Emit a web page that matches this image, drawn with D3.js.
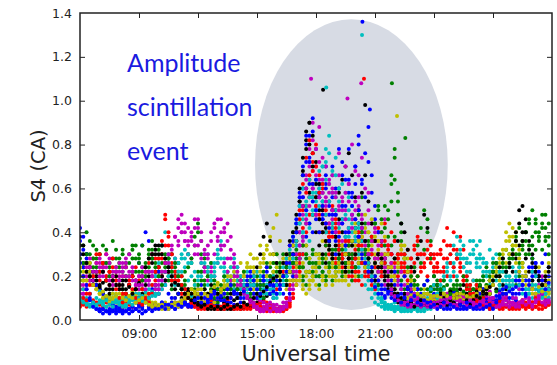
<!DOCTYPE html>
<html>
<head>
<meta charset="utf-8">
<script src="https://cdn.jsdelivr.net/npm/d3@7"></script>
<style>
  html, body { margin: 0; padding: 0; background: #fff; }
  svg { display: block; }
  .tick text { font-family: "DejaVu Sans", sans-serif; font-size: 12.5px; fill: #222; }
</style>
</head>
<body>
<svg id="chart" width="557" height="365"></svg>
<script>
// Universal time in hours, 06:00 through 06:00 the following day
const timeDomain = [6, 30];
const stepHours = 1 / 6; // one S4 sample every 10 minutes
const eventStartHour = 16.5; // first sample of the event-only tracks
const xTickHours = [9, 12, 15, 18, 21, 24, 27];
const xTickLabels = ["09:00", "12:00", "15:00", "18:00", "21:00", "00:00", "03:00"];
const yTicks = [0.0, 0.2, 0.4, 0.6, 0.8, 1.0, 1.2, 1.4];
const yTickLabels = ["0.0", "0.2", "0.4", "0.6", "0.8", "1.0", "1.2", "1.4"];

// S4 per satellite track, 10-minute samples starting 06:00 (one row = 2 hours)
const blueA = [
  .36,.32,.28,.12,.08,.06,.05,.05,.04,.05,.04,.05,
  .04,.05,.04,.05,.06,.08,.26,.34,.40,.36,.30,.22,
  .12,.08,.06,.05,.06,.05,.06,.07,.08,.10,.09,.12,
  .14,.16,.12,.10,.08,.07,.09,.12,.14,.10,.08,.07,
  .06,.08,.10,.12,.16,.14,.18,.20,.16,.14,.12,.10,
  .12,.18,.22,.16,.28,.36,.44,.52,.60,.72,.84,.92,
  .78,.62,.54,.70,.48,.56,.40,.34,.46,.38,.42,.30,
  .36,.44,.28,.32,.20,.18,.14,.16,.12,.10,.14,.12,
  .10,.12,.09,.11,.08,.10,.12,.14,.10,.08,.09,.10,
  .08,.06,.07,.05,.06,.05,.06,.07,.05,.06,.05,.06,
  .07,.05,.06,.08,.06,.05,.07,.06,.08,.10,.09,.08,
  .10,.12,.16,.20,.18,.14,.22,.26,.20,.16,.18,.14
];
const greenA = [
  .28,.34,.40,.30,.24,.32,.20,.26,.18,.22,.36,.28,
  .24,.30,.20,.26,.32,.22,.28,.34,.24,.30,.36,.26,
  .32,.22,.28,.20,.14,.18,.12,.16,.22,.30,.26,.34,
  .44,.36,.28,.22,.18,.14,.12,.10,.14,.12,.16,.12,
  .10,.12,.14,.10,.12,.16,.14,.18,.20,.24,.18,.22,
  .26,.22,.30,.28,.34,.40,.36,.30,.38,.34,.28,.32,
  .26,.30,.22,.28,.34,.26,.20,.24,.30,.22,.28,.36,
  .40,.48,.56,.44,.36,.30,.24,.28,.36,.42,.50,.62,
  .78,.54,.40,.30,.22,.18,.24,.34,.42,.50,.46,.36,
  .24,.18,.14,.12,.10,.13,.11,.14,.12,.10,.12,.14,
  .12,.14,.16,.18,.20,.22,.26,.24,.22,.28,.32,.30,
  .34,.38,.42,.36,.40,.44,.38,.46,.40,.48,.42,.38
];
const redA = [
  .07,.08,.06,.07,.09,.08,.07,.06,.08,.07,.09,.08,
  .07,.06,.08,.07,.06,.08,.07,.09,.10,.08,.12,.16,
  .22,.30,.46,.38,.26,.20,.16,.12,.08,.06,.07,.06,
  .05,.06,.07,.05,.06,.08,.06,.05,.07,.06,.05,.06,
  .07,.06,.05,.06,.08,.07,.10,.12,.09,.08,.07,.06,
  .05,.06,.04,.05,.06,.10,.18,.26,.34,.52,.64,.72,
  .80,.66,.58,.48,.40,.52,.44,.36,.30,.26,.34,.28,
  .24,.30,.38,.26,.22,.18,.24,.30,.36,.44,.32,.26,
  .22,.28,.34,.20,.16,.24,.18,.30,.22,.26,.32,.28,
  .24,.30,.22,.28,.34,.26,.20,.30,.38,.32,.26,.22,
  .18,.14,.10,.08,.07,.06,.08,.07,.06,.05,.07,.06,
  .05,.06,.07,.08,.06,.07,.05,.06,.08,.07,.06,.07
];
const cyanA = [
  .12,.10,.08,.07,.06,.07,.08,.07,.06,.08,.07,.09,
  .10,.08,.09,.11,.10,.12,.09,.11,.13,.10,.12,.14,
  .12,.16,.22,.28,.24,.20,.26,.30,.24,.18,.14,.12,
  .16,.22,.26,.30,.26,.22,.28,.34,.24,.20,.18,.22,
  .20,.16,.18,.22,.14,.12,.16,.20,.18,.14,.12,.10,
  .12,.14,.18,.22,.26,.30,.34,.40,.46,.52,.44,.56,
  .62,.68,.58,.72,.84,.66,.74,.60,.52,.48,.56,.44,
  .38,.42,.30,.26,.34,.22,.18,.14,.10,.08,.07,.06,
  .05,.06,.05,.04,.05,.06,.05,.04,.06,.05,.06,.08,
  .10,.14,.18,.22,.26,.30,.24,.20,.28,.34,.26,.22,
  .18,.24,.30,.26,.20,.16,.22,.18,.14,.12,.16,.20,
  .24,.18,.14,.16,.20,.12,.10,.14,.18,.12,.10,.12
];
const magentaA = [
  .14,.12,.16,.18,.20,.22,.26,.24,.20,.28,.22,.18,
  .20,.24,.28,.22,.18,.16,.14,.18,.20,.16,.14,.12,
  .16,.20,.18,.24,.30,.28,.36,.44,.40,.34,.38,.42,
  .46,.40,.32,.28,.22,.20,.26,.34,.40,.44,.38,.30,
  .24,.20,.16,.14,.12,.10,.08,.07,.06,.05,.06,.07,
  .05,.04,.06,.08,.12,.20,.28,.40,.56,.66,.72,.60,
  .52,.64,.50,.44,.58,.46,.38,.52,.44,.36,.42,.30,
  .34,.40,.32,.26,.22,.30,.36,.28,.20,.16,.18,.14,
  .12,.10,.08,.07,.06,.08,.10,.09,.08,.07,.06,.08,
  .07,.06,.08,.10,.12,.10,.08,.07,.09,.11,.08,.07,
  .06,.08,.10,.07,.09,.12,.10,.08,.07,.09,.06,.08,
  .10,.08,.07,.09,.12,.10,.08,.11,.09,.07,.08,.10
];
const yellowA = [
  .20,.24,.22,.18,.16,.20,.14,.12,.10,.11,.09,.12,
  .10,.11,.09,.10,.12,.11,.09,.08,.10,.09,.07,.08,
  .07,.06,.08,.07,.06,.07,.06,.08,.09,.10,.11,.12,
  .10,.12,.14,.12,.10,.09,.11,.13,.15,.18,.14,.12,
  .16,.20,.22,.18,.24,.28,.22,.26,.30,.34,.26,.22,
  .18,.20,.16,.14,.18,.22,.26,.30,.24,.34,.28,.22,
  .26,.30,.36,.28,.24,.20,.26,.18,.22,.30,.34,.40,
  .44,.50,.38,.32,.28,.36,.30,.24,.30,.22,.20,.18,
  .16,.22,.30,.34,.28,.20,.16,.12,.10,.14,.12,.11,
  .10,.12,.11,.09,.10,.12,.14,.11,.09,.12,.10,.11,
  .09,.10,.12,.14,.16,.18,.22,.20,.26,.30,.36,.44,
  .38,.30,.24,.20,.16,.14,.12,.10,.12,.14,.11,.13
];
const blackA = [
  .38,.34,.30,.22,.18,.16,.14,.12,.10,.12,.14,.16,
  .18,.16,.14,.16,.20,.18,.16,.14,.18,.22,.28,.32,
  .34,.30,.26,.28,.24,.20,.16,.15,.14,.13,.11,.09,
  .08,.07,.06,.06,.05,.06,.05,.06,.05,.05,.06,.05,
  .06,.05,.06,.07,.06,.07,.08,.09,.10,.11,.12,.14,
  .16,.18,.20,.24,.28,.34,.42,.54,.68,.82,.90,.76,
  .62,.50,.44,.40,.34,.30,.38,.32,.28,.24,.30,.22,
  .28,.34,.40,.30,.24,.20,.16,.22,.26,.20,.14,.12,
  .10,.08,.09,.07,.08,.06,.07,.08,.06,.07,.06,.08,
  .07,.06,.08,.07,.09,.08,.07,.06,.08,.09,.07,.06,
  .08,.07,.09,.10,.08,.12,.16,.14,.10,.12,.14,.18,
  .22,.28,.34,.40,.46,.36,.30,.24,.20,.18,.16,.14
];
const blueB = [
  .42,.38,.30,.22,.18,.16,.14,.12,.10,.08,.07,.06,
  .06,.07,.06,.05,.06,.05,.07,.06,.08,.10,.14,.20,
  .22,.18,.16,.12,.10,.08,.07,.06,.08,.07,.06,.08,
  .07,.06,.08,.10,.12,.09,.07,.06,.08,.10,.14,.12,
  .10,.12,.14,.18,.22,.16,.12,.14,.20,.24,.18,.15,
  .16,.14,.12,.10,.12,.20,.26,.34,.30,.38,.44,.40,
  .50,.58,.46,.62,.54,.70,.60,.78,.66,.52,.64,.56,
  .70,.80,.64,.56,.72,.58,.46,.40,.34,.28,.22,.18,
  .16,.18,.14,.12,.15,.13,.11,.14,.12,.16,.18,.14,
  .12,.14,.10,.12,.09,.11,.13,.10,.08,.09,.07,.08,
  .09,.10,.12,.14,.10,.08,.09,.11,.13,.12,.10,.08,
  .07,.09,.12,.16,.20,.24,.28,.22,.18,.26,.30,.24
];
const greenB = [
  .22,.18,.26,.20,.16,.24,.30,.22,.18,.26,.20,.24,
  .18,.14,.20,.16,.22,.18,.26,.22,.18,.24,.20,.16,
  .20,.26,.22,.18,.30,.24,.20,.16,.12,.10,.14,.18,
  .22,.18,.16,.20,.14,.10,.08,.12,.10,.14,.16,.20,
  .18,.14,.12,.16,.10,.08,.12,.14,.10,.16,.20,.26,
  .30,.24,.20,.26,.22,.18,.24,.28,.20,.16,.22,.26,
  .20,.16,.22,.18,.24,.28,.32,.26,.22,.30,.34,.28,
  .24,.20,.26,.22,.28,.24,.20,.16,.22,.26,.30,.34,
  .28,.22,.18,.14,.12,.16,.14,.12,.10,.12,.14,.13,
  .16,.14,.12,.14,.10,.12,.14,.16,.12,.10,.11,.13,
  .10,.12,.09,.11,.14,.12,.10,.13,.16,.14,.12,.15,
  .18,.16,.20,.26,.30,.34,.28,.32,.38,.44,.36,.30
];
const redB = [
  .10,.14,.18,.24,.28,.30,.22,.26,.20,.16,.24,.18,
  .14,.12,.10,.16,.20,.14,.12,.18,.22,.26,.30,.28,
  .24,.20,.26,.22,.18,.20,.16,.12,.10,.14,.12,.10,
  .12,.10,.08,.11,.09,.12,.10,.14,.12,.09,.10,.12,
  .14,.12,.16,.14,.18,.12,.10,.08,.12,.14,.16,.18,
  .14,.16,.22,.26,.34,.30,.40,.46,.50,.44,.56,.62,
  .48,.40,.52,.36,.30,.42,.28,.34,.24,.30,.20,.26,
  .22,.18,.26,.30,.20,.16,.14,.18,.22,.30,.34,.40,
  .36,.30,.26,.22,.18,.28,.32,.36,.30,.24,.20,.26,
  .30,.24,.18,.22,.28,.34,.40,.32,.26,.20,.16,.14,
  .12,.16,.14,.10,.12,.08,.06,.07,.09,.12,.10,.08,
  .07,.06,.08,.09,.07,.06,.08,.10,.08,.07,.09,.08
];
const cyanB = [
  .16,.14,.10,.12,.08,.10,.13,.09,.11,.10,.12,.11,
  .09,.07,.06,.08,.07,.09,.10,.08,.12,.14,.16,.20,
  .26,.34,.40,.30,.22,.18,.16,.14,.12,.10,.11,.09,
  .10,.12,.14,.16,.20,.24,.30,.36,.28,.22,.16,.14,
  .12,.10,.14,.16,.12,.18,.22,.16,.14,.12,.16,.20,
  .24,.20,.16,.22,.28,.26,.34,.30,.38,.44,.36,.50,
  .58,.46,.54,.40,.36,.42,.48,.34,.40,.32,.38,.26,
  .30,.24,.20,.16,.14,.10,.08,.07,.06,.05,.06,.07,
  .08,.06,.07,.09,.06,.08,.10,.07,.09,.12,.10,.14,
  .16,.12,.10,.14,.20,.26,.34,.38,.30,.24,.28,.36,
  .32,.26,.36,.28,.22,.18,.24,.30,.22,.18,.20,.16,
  .14,.18,.22,.16,.12,.14,.18,.22,.16,.14,.12,.10
];
const magentaB = [
  .10,.12,.14,.18,.16,.20,.24,.22,.26,.20,.18,.24,
  .22,.26,.20,.18,.22,.16,.20,.24,.18,.22,.20,.16,
  .12,.14,.18,.22,.20,.26,.34,.40,.36,.30,.28,.34,
  .30,.26,.22,.18,.24,.30,.36,.32,.26,.22,.18,.20,
  .16,.14,.12,.10,.09,.08,.10,.09,.08,.07,.08,.06,
  .07,.06,.08,.10,.14,.18,.24,.30,.38,.46,.56,.68,
  .78,.88,.62,.70,.54,.60,.48,.66,.56,.50,.62,.46,
  .54,.66,.48,.40,.58,.44,.36,.30,.40,.46,.34,.26,
  .20,.16,.14,.12,.10,.14,.12,.10,.08,.10,.12,.09,
  .10,.08,.11,.09,.12,.10,.08,.09,.11,.10,.08,.09,
  .10,.12,.09,.08,.11,.13,.10,.09,.12,.10,.11,.14,
  .12,.10,.14,.16,.12,.18,.14,.12,.16,.20,.18,.14
];
const yellowB = [
  .16,.18,.22,.26,.20,.14,.12,.10,.09,.08,.10,.09,
  .08,.10,.12,.11,.13,.10,.12,.14,.11,.09,.08,.07,
  .06,.05,.07,.06,.08,.10,.12,.14,.12,.10,.14,.16,
  .14,.10,.08,.07,.06,.08,.10,.12,.16,.20,.24,.22,
  .18,.14,.20,.24,.16,.14,.18,.22,.26,.20,.30,.42,
  .48,.36,.28,.22,.26,.30,.24,.18,.14,.12,.16,.20,
  .22,.26,.18,.16,.20,.24,.18,.22,.28,.20,.16,.24,
  .20,.26,.30,.24,.32,.38,.42,.36,.28,.22,.18,.14,
  .12,.10,.09,.08,.10,.11,.09,.08,.10,.12,.09,.10,
  .11,.09,.10,.12,.08,.09,.11,.10,.12,.09,.08,.10,
  .09,.11,.10,.12,.14,.12,.16,.20,.18,.22,.26,.30,
  .34,.40,.32,.26,.22,.18,.16,.20,.24,.18,.22,.26
];
const blackB = [
  .30,.26,.22,.24,.18,.20,.16,.22,.18,.14,.20,.16,
  .14,.18,.12,.16,.20,.14,.10,.12,.16,.20,.26,.30,
  .24,.20,.18,.22,.16,.14,.12,.10,.12,.14,.12,.10,
  .12,.10,.14,.12,.16,.14,.12,.10,.08,.10,.12,.09,
  .10,.12,.14,.16,.18,.20,.24,.30,.38,.44,.36,.30,
  .26,.22,.20,.24,.30,.26,.36,.44,.52,.60,.58,.48,
  .40,.34,.30,.26,.36,.44,.50,.58,.64,.70,.76,.66,
  .56,.44,.36,.30,.26,.22,.26,.30,.24,.18,.20,.16,
  .14,.12,.10,.12,.14,.18,.22,.28,.36,.48,.42,.30,
  .20,.16,.12,.10,.11,.13,.10,.12,.14,.16,.12,.10,
  .11,.13,.15,.12,.14,.18,.22,.26,.20,.16,.22,.24,
  .30,.40,.50,.36,.28,.22,.18,.24,.20,.16,.18,.22
];
const blueC = [
  .30,.24,.16,.10,.07,.05,.04,.05,.04,.04,.05,.04,
  .05,.04,.04,.05,.04,.05,.06,.05,.04,.06,.05,.07,
  .06,.08,.07,.06,.08,.10,.12,.09,.07,.06,.08,.07,
  .06,.08,.07,.09,.10,.12,.14,.11,.09,.08,.10,.12,
  .14,.18,.16,.20,.14,.12,.10,.16,.18,.14,.12,.16,
  .18,.14,.16,.22,.30,.38,.46,.58,.66,.80,.72,.86,
  .64,.56,.48,.60,.42,.50,.36,.44,.52,.40,.58,.48,
  .62,.50,.42,.36,.30,.24,.20,.18,.16,.14,.12,.13,
  .11,.09,.12,.10,.08,.09,.07,.08,.10,.09,.07,.08,
  .06,.08,.07,.09,.06,.07,.08,.06,.07,.05,.06,.07,
  .06,.07,.05,.06,.08,.07,.06,.09,.11,.14,.12,.10,
  .14,.18,.22,.16,.12,.18,.24,.20,.14,.12,.16,.20
];
const greenC = [
  .34,.26,.30,.36,.28,.22,.30,.34,.26,.20,.28,.32,
  .28,.22,.26,.30,.34,.28,.22,.18,.26,.32,.28,.24,
  .20,.16,.24,.28,.22,.26,.20,.14,.18,.24,.28,.38,
  .40,.30,.24,.20,.26,.18,.14,.16,.20,.18,.14,.16,
  .14,.18,.22,.16,.12,.18,.20,.16,.22,.26,.20,.18,
  .22,.26,.20,.24,.30,.26,.32,.28,.24,.30,.26,.22,
  .30,.24,.28,.20,.26,.32,.24,.28,.34,.26,.30,.24,
  .28,.32,.26,.30,.34,.38,.44,.50,.40,.34,.46,.54,
  .64,.48,.36,.28,.24,.20,.16,.20,.26,.32,.40,.28,
  .20,.16,.14,.18,.16,.12,.14,.18,.16,.20,.18,.16,
  .14,.18,.16,.20,.24,.18,.22,.26,.30,.26,.24,.28,
  .32,.36,.30,.34,.40,.46,.50,.44,.38,.42,.48,.44
];
const redC = [
  .08,.10,.12,.16,.20,.26,.30,.24,.18,.22,.28,.20,
  .16,.20,.24,.18,.14,.10,.08,.07,.09,.12,.16,.22,
  .28,.36,.48,.34,.24,.18,.22,.16,.12,.10,.08,.07,
  .06,.05,.06,.07,.06,.05,.06,.05,.07,.06,.05,.06,
  .06,.05,.06,.05,.07,.06,.05,.04,.05,.06,.05,.04,
  .05,.04,.05,.06,.08,.12,.20,.30,.42,.58,.66,.76,
  .70,.58,.62,.50,.44,.38,.46,.40,.34,.30,.36,.24,
  .28,.34,.26,.22,.30,.38,.28,.24,.20,.26,.34,.30,
  .26,.20,.24,.30,.22,.28,.34,.38,.30,.24,.28,.34,
  .28,.22,.32,.36,.42,.30,.24,.28,.22,.18,.20,.16,
  .12,.09,.08,.07,.06,.08,.07,.06,.08,.07,.06,.05,
  .06,.07,.05,.06,.08,.06,.07,.06,.05,.07,.06,.08
];
const cyanC = [
  .09,.08,.07,.06,.07,.06,.08,.07,.06,.07,.06,.08,
  .07,.06,.07,.08,.09,.08,.10,.09,.08,.10,.11,.12,
  .14,.18,.22,.26,.20,.16,.22,.28,.32,.26,.20,.16,
  .20,.26,.30,.24,.20,.26,.32,.28,.22,.18,.24,.28,
  .24,.20,.16,.12,.16,.20,.14,.10,.12,.16,.14,.12,
  .10,.12,.16,.20,.24,.28,.36,.44,.40,.50,.56,.48,
  .54,.60,.70,.64,.76,.58,.66,.54,.62,.46,.50,.40,
  .42,.36,.32,.28,.24,.20,.16,.12,.09,.07,.06,.05,
  .06,.05,.04,.05,.06,.04,.05,.06,.05,.04,.05,.06,
  .08,.12,.16,.20,.24,.20,.26,.30,.36,.28,.22,.26,
  .30,.34,.28,.22,.26,.32,.28,.20,.16,.18,.22,.18,
  .16,.20,.24,.18,.14,.12,.16,.20,.14,.10,.12,.14
];
const magentaC = [
  .12,.16,.20,.24,.18,.22,.28,.20,.24,.18,.16,.22,
  .26,.20,.24,.30,.22,.18,.20,.16,.14,.18,.22,.16,
  .18,.22,.26,.30,.34,.38,.42,.48,.44,.36,.40,.46,
  .42,.36,.30,.34,.40,.44,.38,.46,.42,.36,.28,.24,
  .20,.16,.12,.10,.08,.06,.05,.04,.05,.06,.04,.05,
  .04,.05,.06,.07,.10,.16,.22,.34,.48,.60,.70,.82,
  .66,.72,.58,.54,.62,.50,.56,.44,.50,.58,.40,.48,
  .46,.52,.42,.36,.44,.32,.40,.34,.26,.22,.16,.12,
  .10,.09,.08,.07,.08,.06,.07,.08,.09,.07,.06,.07,
  .06,.08,.07,.09,.10,.08,.06,.07,.08,.10,.09,.06,
  .07,.06,.08,.09,.07,.10,.08,.06,.07,.08,.07,.06,
  .08,.07,.06,.08,.10,.09,.07,.08,.10,.12,.09,.08
];
const yellowC = [
  .24,.20,.18,.22,.16,.14,.12,.13,.11,.10,.12,.11,
  .12,.10,.09,.11,.10,.08,.09,.10,.08,.07,.06,.07,
  .06,.07,.05,.06,.07,.08,.07,.09,.10,.12,.14,.13,
  .12,.14,.12,.11,.13,.15,.17,.14,.12,.16,.20,.18,
  .22,.26,.20,.24,.30,.22,.18,.24,.28,.32,.38,.30,
  .24,.20,.26,.30,.22,.18,.16,.20,.26,.22,.18,.24,
  .30,.26,.20,.24,.32,.28,.22,.26,.34,.30,.26,.36,
  .40,.36,.30,.34,.40,.46,.38,.32,.26,.30,.24,.20,
  .18,.24,.32,.28,.22,.18,.14,.12,.11,.10,.12,.10,
  .09,.11,.10,.12,.11,.09,.10,.12,.10,.09,.11,.10,
  .11,.12,.14,.13,.15,.18,.20,.24,.28,.32,.40,.36,
  .30,.26,.22,.18,.20,.16,.14,.12,.15,.13,.16,.18
];
const blackC = [
  .34,.30,.26,.20,.22,.18,.15,.17,.14,.16,.18,.20,
  .16,.14,.18,.15,.12,.14,.17,.20,.24,.28,.30,.34,
  .30,.34,.28,.24,.20,.17,.16,.14,.12,.10,.09,.08,
  .07,.06,.07,.05,.06,.05,.06,.05,.06,.07,.05,.06,
  .07,.06,.08,.07,.09,.10,.12,.11,.13,.15,.17,.19,
  .20,.22,.26,.30,.36,.40,.48,.60,.74,.86,.80,.70,
  .56,.46,.40,.36,.32,.28,.34,.30,.26,.22,.28,.34,
  .30,.38,.44,.36,.28,.22,.18,.24,.28,.22,.16,.14,
  .12,.10,.08,.09,.07,.08,.06,.07,.09,.08,.07,.06,
  .08,.07,.06,.08,.07,.09,.08,.06,.07,.08,.09,.07,
  .09,.11,.10,.13,.12,.15,.18,.20,.24,.28,.22,.26,
  .30,.36,.44,.52,.40,.32,.26,.22,.18,.16,.20,.24
];
const greenE = [
  .20,.24,.30,.26,.34,.28,.22,.26,.32,.24,.18,.22,
  .26,.32,.24,.20,.28,.34,.30,.24,.20,.28,.32,.22,
  .28,.34,.30,.24,.18,.22,.26,.20,.16,.12,.10,.14,
  .16,.22,.18,.24,.20,.16,.12,.14,.18,.22,.18,.14,
  .12,.16,.20,.14,.18,.22,.16,.12,.16,.20,.24,.20,
  .18,.22,.26,.20,.16,.22,.28,.24,.18,.22,.26,.20,
  .24,.20,.26,.30,.22,.18,.24,.28,.20,.26,.22,.18,
  .22,.26,.20,.24,.28,.22,.26,.30,.36,.28,.24,.30,
  .38,.30,.24,.20,.16,.14,.18,.16,.14,.16,.18,.15,
  .14,.16,.13,.15,.12,.14,.16,.13,.11,.13,.15,.12,
  .14,.16,.18,.14,.16,.20,.18,.22,.20,.24,.22,.26,
  .28,.30,.26,.32,.36,.30,.34,.40,.36,.32,.38,.34
];
const yellowE = [
  .18,.22,.26,.20,.18,.14,.12,.10,.11,.09,.10,.08,
  .09,.08,.10,.09,.07,.08,.06,.07,.08,.06,.07,.06,
  .05,.06,.07,.05,.06,.07,.08,.07,.09,.11,.10,.12,
  .11,.09,.10,.12,.14,.12,.16,.14,.18,.16,.14,.12,
  .14,.18,.22,.26,.20,.24,.28,.34,.30,.24,.20,.26,
  .30,.24,.20,.22,.26,.20,.18,.22,.16,.20,.14,.18,
  .16,.14,.20,.18,.22,.16,.20,.26,.22,.18,.24,.30,
  .34,.28,.36,.42,.34,.30,.26,.22,.28,.24,.20,.16,
  .14,.18,.24,.20,.16,.12,.10,.11,.09,.10,.12,.11,
  .10,.09,.11,.10,.08,.10,.12,.11,.09,.10,.08,.09,
  .10,.12,.11,.13,.12,.15,.18,.22,.20,.26,.32,.38,
  .42,.34,.28,.24,.20,.18,.15,.12,.14,.16,.13,.12
];
const cyanE = [
  .10,.09,.08,.09,.08,.07,.09,.08,.09,.10,.08,.09,
  .08,.09,.10,.09,.11,.10,.12,.11,.10,.12,.13,.11,
  .12,.14,.16,.20,.24,.28,.26,.22,.28,.30,.26,.22,
  .18,.20,.24,.22,.18,.20,.26,.24,.20,.16,.20,.24,
  .18,.14,.12,.14,.18,.16,.12,.10,.14,.18,.16,.14,
  .16,.20,.24,.28,.32,.38,.44,.52,.60,.54,.64,.58,
  .50,.56,.62,.48,.54,.44,.50,.42,.46,.38,.42,.34,
  .36,.30,.26,.22,.18,.14,.12,.10,.08,.06,.05,.06,
  .04,.05,.06,.05,.04,.05,.06,.05,.04,.05,.06,.05,
  .07,.10,.14,.18,.22,.18,.22,.28,.32,.24,.20,.30,
  .36,.28,.24,.20,.26,.22,.18,.24,.28,.22,.18,.14,
  .18,.22,.16,.12,.14,.18,.22,.16,.13,.11,.14,.16
];
const redE = [
  .06,.07,.09,.12,.16,.22,.18,.26,.30,.22,.18,.14,
  .10,.08,.12,.16,.20,.24,.18,.14,.10,.08,.12,.18,
  .24,.28,.34,.40,.30,.22,.18,.20,.14,.10,.08,.06,
  .07,.06,.05,.06,.07,.06,.05,.06,.05,.07,.06,.05,
  .05,.06,.07,.06,.05,.06,.07,.06,.05,.04,.05,.06,
  .04,.05,.06,.05,.07,.10,.16,.22,.30,.40,.48,.56,
  .52,.46,.40,.34,.38,.30,.26,.32,.28,.22,.26,.20,
  .18,.22,.16,.20,.26,.22,.18,.24,.28,.36,.30,.24,
  .20,.26,.30,.24,.18,.22,.26,.20,.24,.30,.36,.30,
  .22,.26,.30,.24,.20,.26,.32,.28,.24,.18,.14,.12,
  .10,.08,.07,.06,.07,.05,.06,.07,.05,.06,.07,.06,
  .07,.05,.06,.07,.05,.06,.08,.06,.07,.05,.06,.07
];
const magentaE = [
  .16,.20,.24,.28,.22,.26,.20,.24,.30,.26,.20,.22,
  .18,.22,.26,.20,.24,.18,.16,.20,.22,.18,.20,.14,
  .14,.18,.22,.26,.32,.38,.46,.40,.36,.42,.36,.30,
  .34,.28,.24,.30,.36,.42,.46,.40,.34,.28,.32,.26,
  .22,.18,.14,.11,.09,.07,.06,.05,.04,.05,.04,.06,
  .05,.04,.05,.06,.09,.14,.20,.28,.36,.44,.52,.60,
  .48,.56,.64,.52,.44,.58,.40,.50,.36,.46,.54,.42,
  .50,.38,.46,.34,.30,.36,.28,.22,.30,.24,.18,.14,
  .11,.09,.07,.08,.06,.07,.09,.07,.06,.08,.07,.06,
  .08,.06,.09,.07,.08,.10,.07,.06,.09,.08,.07,.09,
  .08,.07,.06,.08,.07,.09,.10,.08,.06,.07,.09,.08,
  .07,.06,.08,.09,.07,.08,.06,.09,.11,.08,.07,.09
];
const blueE = [
  .26,.20,.14,.09,.06,.05,.04,.03,.04,.03,.04,.03,
  .04,.03,.04,.03,.04,.05,.04,.03,.04,.05,.04,.05,
  .05,.06,.05,.07,.06,.05,.07,.06,.08,.07,.06,.09,
  .10,.12,.10,.08,.11,.13,.10,.09,.12,.14,.16,.13,
  .12,.10,.13,.16,.20,.18,.14,.12,.18,.22,.16,.13,
  .12,.16,.20,.26,.34,.30,.40,.48,.56,.50,.62,.54,
  .46,.40,.52,.44,.36,.48,.30,.38,.44,.34,.40,.52,
  .46,.38,.30,.26,.22,.18,.15,.12,.14,.11,.13,.10,
  .09,.11,.08,.10,.07,.09,.11,.08,.07,.09,.08,.06,
  .07,.05,.06,.08,.05,.07,.06,.05,.07,.06,.08,.06,
  .05,.06,.07,.05,.06,.07,.05,.08,.10,.12,.15,.13,
  .12,.15,.18,.14,.11,.16,.20,.26,.22,.18,.14,.17
];

// Extra tracks seen only during the event, 10-minute samples from 16:30
const blueD    = [.20,.26,.34,.44,.56,.70,.84,.74,.62,.50,.58,.46,.66,.52,.40,.48,.60,.72,.64,.78,.58,.70,.84,.62,.76,.88,.66,.52,.40,.34,.28,.24,.30,.22,.18,.16,.20,.14,.16];
const greenD   = [.18,.22,.26,.30,.24,.34,.28,.22,.30,.26,.20,.28,.34,.24,.30,.22,.28,.32,.26,.36,.30,.24,.34,.40,.32,.28,.36,.44,.52,.46,.52,.38,.66,.74,.58,.44,.28,.22,.18];
const redD     = [.10,.16,.24,.36,.50,.62,.74,.82,.68,.56,.48,.60,.44,.38,.50,.42,.34,.28,.36,.30,.26,.32,.40,.34,.28,.22,.30,.36,.42,.34,.28,.24,.30,.36,.28,.22,.26,.32,.24];
const cyanD    = [.16,.22,.28,.34,.30,.40,.48,.42,.56,.64,.52,.70,.78,.62,.68,.56,.60,.50,.58,.46,.52,.40,.44,.36,.30,.26,.22,.18,.12,.09,.07,.06,.05,.06,.05,.04,.05,.06,.05];
const magentaD = [.08,.14,.22,.30,.40,.52,.64,.78,.90,.70,.60,.74,.56,.64,.66,.58,.76,.54,.70,.62,.80,.68,.56,.74,.60,.50,.44,.42,.30,.36,.28,.22,.30,.24,.18,.22,.16,.12,.10];
const yellowD  = [.22,.28,.34,.26,.20,.24,.30,.22,.18,.24,.28,.20,.16,.22,.26,.30,.24,.18,.22,.28,.34,.30,.36,.42,.48,.40,.34,.28,.36,.44,.38,.30,.24,.20,.26,.34,.28,.22,.18];
const blackD   = [.16,.22,.30,.40,.54,.66,.78,.90,.84,.72,.62,.50,.42,.36,.30,.38,.46,.40,.34,.28,.36,.42,.50,.58,.66,.54,.44,.36,.30,.24,.20,.16,.22,.28,.36,.44,.40,.32,.24];

// Isolated high-S4 samples during the event
const spikeHours = [17.75, 18.36, 18.52, 19.60, 20.30, 20.34, 20.36, 20.44, 20.50, 20.74, 21.86, 22.12, 22.54];
const spikeS4    = [1.10,  1.05,  1.06,  1.01,  1.08,  1.30,  1.36,  1.10,  0.98,  0.96,  1.08,  0.93,  0.83];
const spikeColor = ["m",   "k",   "c",   "m",   "m",   "c",   "b",   "r",   "k",   "b",   "g",   "y",   "g"];

const tracks = [
  { key: "b", start: 6, values: blueA }, { key: "g", start: 6, values: greenA }, { key: "r", start: 6, values: redA },
  { key: "c", start: 6, values: cyanA }, { key: "m", start: 6, values: magentaA }, { key: "y", start: 6, values: yellowA },
  { key: "k", start: 6, values: blackA },
  { key: "g", start: 6, values: greenE }, { key: "y", start: 6, values: yellowE },
  { key: "b", start: 6, values: blueB }, { key: "g", start: 6, values: greenB }, { key: "r", start: 6, values: redB },
  { key: "c", start: 6, values: cyanB }, { key: "m", start: 6, values: magentaB }, { key: "y", start: 6, values: yellowB },
  { key: "k", start: 6, values: blackB },
  { key: "c", start: 6, values: cyanE }, { key: "r", start: 6, values: redE },
  { key: "b", start: eventStartHour, values: blueD }, { key: "g", start: eventStartHour, values: greenD },
  { key: "r", start: eventStartHour, values: redD }, { key: "c", start: eventStartHour, values: cyanD },
  { key: "m", start: eventStartHour, values: magentaD }, { key: "y", start: eventStartHour, values: yellowD },
  { key: "k", start: eventStartHour, values: blackD },
  { key: "b", start: 6, values: blueC }, { key: "g", start: 6, values: greenC }, { key: "r", start: 6, values: redC },
  { key: "c", start: 6, values: cyanC }, { key: "m", start: 6, values: magentaC }, { key: "y", start: 6, values: yellowC },
  { key: "k", start: 6, values: blackC },
  { key: "m", start: 6, values: magentaE }, { key: "b", start: 6, values: blueE }
];

const palette = { b: "#0000ff", g: "#008000", r: "#ff0000", c: "#00bfbf", m: "#bf00bf", y: "#bfbf00", k: "#000000" };

const margin = { left: 80, right: 5, top: 13, bottom: 45 };
const W = 557, H = 365;
const svg = d3.select("#chart");

const x = d3.scaleLinear().domain(timeDomain).range([margin.left, W - margin.right]);
const y = d3.scaleLinear().domain([0, 1.4]).range([H - margin.bottom, margin.top]);

const clipId = "plot-clip";
svg.append("clipPath").attr("id", clipId)
  .append("rect")
  .attr("x", margin.left).attr("y", margin.top)
  .attr("width", x.range()[1] - x.range()[0])
  .attr("height", y.range()[0] - y.range()[1]);

const plot = svg.append("g").attr("clip-path", `url(#${clipId})`);

// Shaded region around the scintillation event: 15:00–24:45 UT, S4 0.05–1.37
const shade = { t0: 14.9, t1: 24.7, s0: 0.046, s1: 1.372 };
plot.append("ellipse")
  .attr("cx", (x(shade.t0) + x(shade.t1)) / 2).attr("cy", (y(shade.s0) + y(shade.s1)) / 2)
  .attr("rx", (x(shade.t1) - x(shade.t0)) / 2).attr("ry", (y(shade.s0) - y(shade.s1)) / 2)
  .attr("fill", "#d7dbe4");

// Flatten the tracks into points
const points = [];
tracks.forEach(t => {
  t.values.forEach((v, i) => {
    if (v != null) points.push({ t: t.start + i * stepHours, v, key: t.key });
  });
});
spikeHours.forEach((h, i) => points.push({ t: h, v: spikeS4[i], key: spikeColor[i] }));

plot.append("g").selectAll("circle").data(points).join("circle")
  .attr("cx", d => x(d.t))
  .attr("cy", d => y(d.v))
  .attr("r", 2)
  .attr("fill", d => palette[d.key]);

// Axes with inward ticks on all four sides
const xb = svg.append("g").attr("transform", `translate(0,${y(0)})`)
  .call(d3.axisBottom(x).tickValues(xTickHours).tickFormat((d, i) => xTickLabels[i]).tickSizeInner(-5).tickSizeOuter(0).tickPadding(9));
const xt = svg.append("g").attr("transform", `translate(0,${y(1.4)})`)
  .call(d3.axisTop(x).tickValues(xTickHours).tickFormat("").tickSizeInner(-5).tickSizeOuter(0));
const yl = svg.append("g").attr("transform", `translate(${x(timeDomain[0])},0)`)
  .call(d3.axisLeft(y).tickValues(yTicks).tickFormat((d, i) => yTickLabels[i]).tickSizeInner(-5).tickSizeOuter(0).tickPadding(8));
const yr = svg.append("g").attr("transform", `translate(${x(timeDomain[1])},0)`)
  .call(d3.axisRight(y).tickValues(yTicks).tickFormat("").tickSizeInner(-5).tickSizeOuter(0));
[xb, xt, yl, yr].forEach(g => {
  g.select(".domain").remove();
  g.selectAll(".tick line").attr("stroke", "#222").attr("stroke-width", 1);
});
// drop the end ticks that coincide with the frame
yl.selectAll(".tick line").filter(d => d === 0 || d === 1.4).remove();
yr.selectAll(".tick line").filter(d => d === 0 || d === 1.4).remove();

svg.append("rect")
  .attr("x", x.range()[0]).attr("y", y.range()[1])
  .attr("width", x.range()[1] - x.range()[0])
  .attr("height", y.range()[0] - y.range()[1])
  .attr("fill", "none").attr("stroke", "#222").attr("stroke-width", 1.5);

// Axis titles
svg.append("text")
  .attr("x", (x.range()[0] + x.range()[1]) / 2).attr("y", 361)
  .attr("text-anchor", "middle")
  .style("font-family", "'DejaVu Sans', sans-serif").style("font-size", "20.5px").style("fill", "#222")
  .text("Universal time");
svg.append("text")
  .attr("transform", `translate(45,166) rotate(-90)`)
  .attr("text-anchor", "middle")
  .style("font-family", "'DejaVu Sans', sans-serif").style("font-size", "19.5px").style("fill", "#222")
  .text("S4 (CA)");

// Annotation
const note = ["Amplitude", "scintillation", "event"];
svg.append("g").selectAll("text").data(note).join("text")
  .attr("x", 127).attr("y", (d, i) => 72 + i * 44)
  .style("font-family", "Lato, 'Open Sans', sans-serif").style("font-size", "25px").style("fill", "#1a1ae0")
  .text(d => d);
</script>
</body>
</html>
